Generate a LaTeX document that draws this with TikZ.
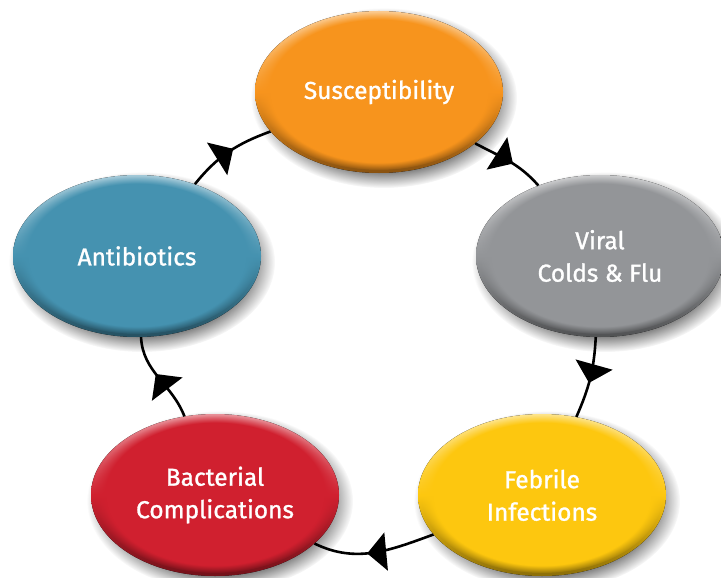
\documentclass[tikz,border=0pt]{standalone}
\usepackage{fontspec}
\setmainfont{Fira Sans}
\newfontfamily\labelfont{Fira Sans}[FakeBold=1.2]
\usetikzlibrary{arrows.meta,decorations.markings,fadings,shapes.geometric}
\definecolor{cOrange}{HTML}{F7941D}
\definecolor{cGray}{HTML}{939598}
\definecolor{cYellow}{HTML}{FDC70F}
\definecolor{cRed}{HTML}{D0202F}
\definecolor{cBlue}{HTML}{4592B0}
\tikzset{
  bubblenode/.style={ellipse, minimum width=248pt, minimum height=162pt, inner sep=0pt,
    text=white, align=center, font=\labelfont\fontsize{24.5}{32.5}\selectfont},
  conn/.style={line width=2.6pt, postaction={decorate},
    decoration={markings, mark=at position 0.56 with {\arrow{Triangle[length=19pt,width=38pt]}}}}
}
\newcommand{\bubble}[5]{%
  \fill[black,opacity=.55,path fading=circle with fuzzy edge 20 percent] (#2+5,#3-6) ellipse (133 and 90);
  \fill[top color=#4!50!white,bottom color=#4!55!black,middle color=#4] (#2,#3) ellipse (124 and 81);
  \fill[#4,path fading=circle with fuzzy edge 10 percent] (#2,#3+1) ellipse (121 and 79);
  \node[bubblenode] (#1) at (#2,#3) {#5};
}
\begin{document}
\begin{tikzpicture}[x=1pt,y=1pt]
\useasboundingbox (0,0) rectangle (721,-578);
\bubble{S}{379}{-92}{cOrange}{Susceptibility}
\bubble{V}{600}{-256}{cGray}{Viral\\Colds \& Flu}
\bubble{F}{542}{-495}{cYellow}{Febrile\\Infections}
\bubble{B}{215}{-495}{cRed}{Bacterial\\Complications}
\bubble{A}{137}{-256}{cBlue}{Antibiotics}
\draw[conn] (S) to[out=-28.5,in=131.7] (V);
\draw[conn] (V) to[out=-93,in=66.9] (F);
\draw[conn] (F) to[out=-160,in=-26] (B);
\draw[conn] (B) to[out=111.8,in=-87.5] (A);
\draw[conn] (A) to[out=51.5,in=200] (S);
\end{tikzpicture}
\end{document}
